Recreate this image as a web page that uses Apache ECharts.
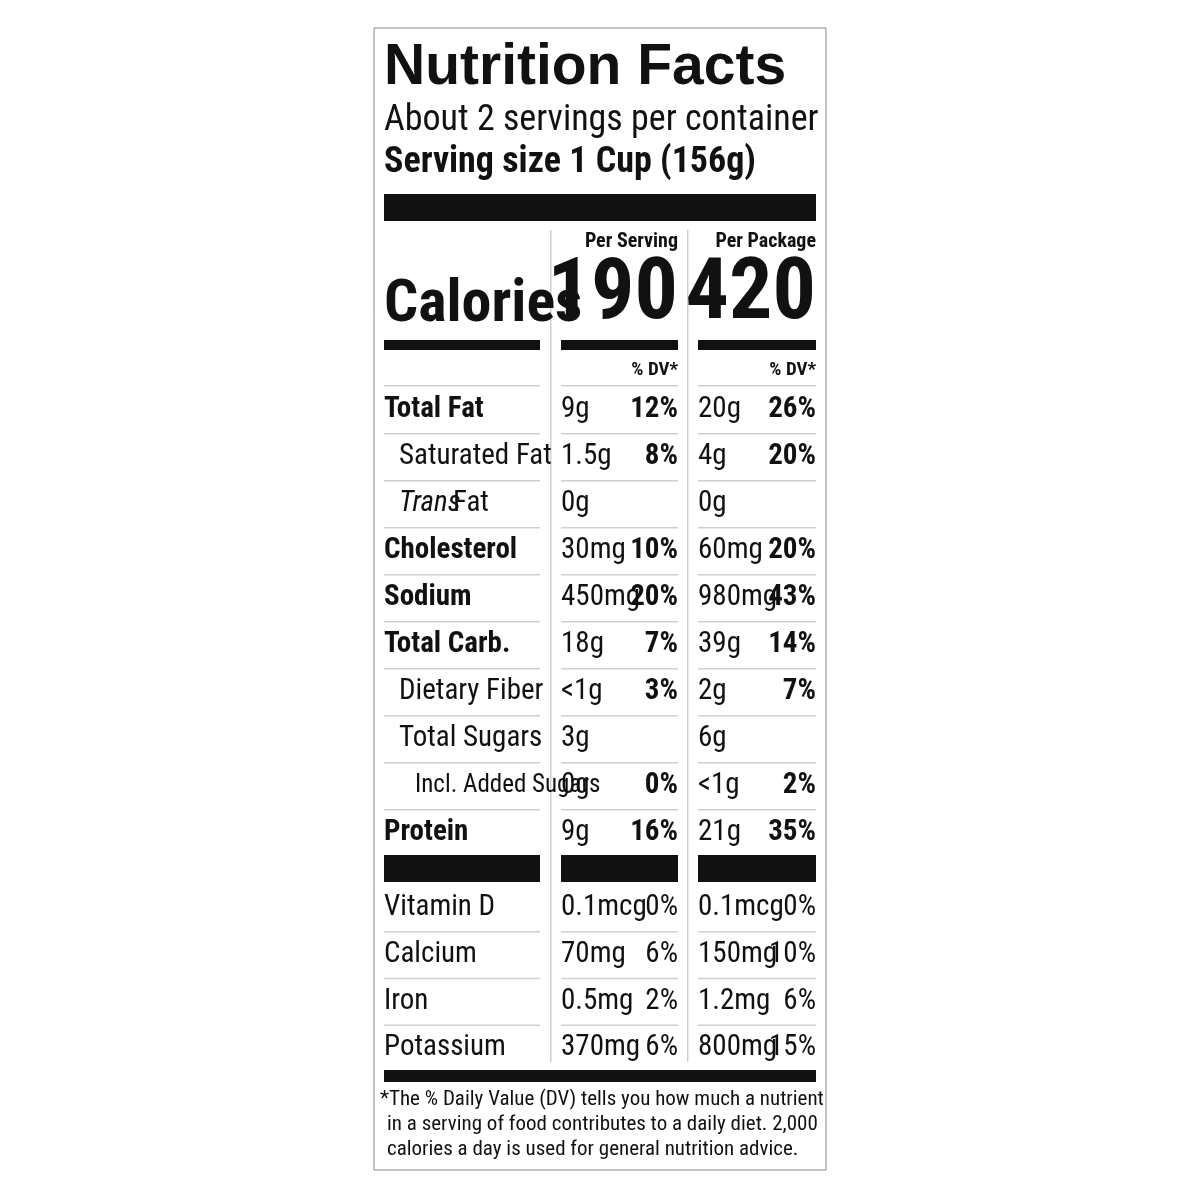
<!doctype html>
<html lang="en">
<head>
<meta charset="UTF-8">
<script src="https://cdn.jsdelivr.net/npm/echarts@6/dist/echarts.min.js"></script>
<title>Nutrition Facts</title>
<style>body{margin:0;background:#fff}</style>
</head>
<body>
<div id="main" style="width:1200px;height:1200px;"></div>
<script>
// nutrient rows
var nutrients = ['Total Fat', 'Saturated Fat', 'Trans Fat', 'Cholesterol', 'Sodium', 'Total Carb.', 'Dietary Fiber', 'Total Sugars', 'Incl. Added Sugars', 'Protein'];
var indent = [0, 1, 1, 0, 0, 0, 1, 1, 2, 0];
var servingAmt = ['9g', '1.5g', '0g', '30mg', '450mg', '18g', '<1g', '3g', '0g', '9g'];
var servingDV = ['12%', '8%', '', '10%', '20%', '7%', '3%', '', '0%', '16%'];
var packageAmt = ['20g', '4g', '0g', '60mg', '980mg', '39g', '2g', '6g', '<1g', '21g'];
var packageDV = ['26%', '20%', '', '20%', '43%', '14%', '7%', '', '2%', '35%'];
// vitamins & minerals
var vitamins = ['Vitamin D', 'Calcium', 'Iron', 'Potassium'];
var vitServAmt = ['0.1mcg', '70mg', '0.5mg', '370mg'];
var vitServDV = ['0%', '6%', '2%', '6%'];
var vitPkgAmt = ['0.1mcg', '150mg', '1.2mg', '800mg'];
var vitPkgDV = ['0%', '10%', '6%', '15%'];
var calories = ['190', '420'];

var F = '"Liberation Sans Narrow", "Roboto Condensed", "Liberation Sans", sans-serif';
var cols = [[384, 540], [561, 678], [698, 816]];
var g = [];

function txt(x, y, s, size, weight, align, style) {
    g.push({type: 'text', x: x, y: y, style: {text: s, fill: '#111', font: (style || 'normal') + ' ' + weight + ' ' + size + 'px ' + F, textAlign: align || 'left', textVerticalAlign: 'middle'}});
}
function rect(x1, y1, x2, y2, fill) {
    g.push({type: 'rect', shape: {x: x1, y: y1, width: x2 - x1, height: y2 - y1}, style: {fill: fill || '#111'}});
}
function sep(y) {
    cols.forEach(function (c) { rect(c[0], y, c[1], y + 1.5, '#cfcfcf'); });
}

// border
g.push({type: 'rect', shape: {x: 374, y: 28, width: 452, height: 1142}, style: {fill: '#fff', stroke: '#888', lineWidth: 1}});
g.push({type: 'text', x: 384, y: 68, style: {text: 'Nutrition Facts', fill: '#111', font: '900 57px "Liberation Sans", sans-serif', textVerticalAlign: 'middle'}});
txt(384, 121, 'About 2 servings per container', 36, 'normal');
txt(384, 163, 'Serving size 1 Cup (156g)', 36, 'bold');
rect(384, 194, 816, 221);
// vertical dividers
rect(550, 230, 551.5, 1062, '#cfcfcf');
rect(687, 230, 688.5, 1062, '#cfcfcf');

txt(678, 242, 'Per Serving', 20, 'bold', 'right');
txt(816, 242, 'Per Package', 20, 'bold', 'right');
txt(384, 306, 'Calories', 60, 'bold');
txt(678, 296, calories[0], 86, 'bold', 'right');
txt(816, 296, calories[1], 86, 'bold', 'right');
cols.forEach(function (c) { rect(c[0], 340, c[1], 350); });
txt(678, 370, '% DV*', 19, 'bold', 'right');
txt(816, 370, '% DV*', 19, 'bold', 'right');
sep(385);

var step = 47;
nutrients.forEach(function (n, i) {
    var y = 410 + i * step;
    var bold = indent[i] === 0 ? 'bold' : 'normal';
    var size = indent[i] === 2 ? 25 : 29;
    var x = 384 + (indent[i] === 1 ? 15 : indent[i] === 2 ? 31 : 0);
    if (n === 'Trans Fat') {
        txt(x, y, 'Trans', size, 'normal', 'left', 'italic');
        txt(x + 54, y, 'Fat', size, 'normal');
    } else {
        txt(x, y, n, size, bold);
    }
    txt(561, y, servingAmt[i], 29, 'normal');
    txt(678, y, servingDV[i], 29, 'bold', 'right');
    txt(698, y, packageAmt[i], 29, 'normal');
    txt(816, y, packageDV[i], 29, 'bold', 'right');
    if (i < nutrients.length - 1) sep(y + 23);
});
cols.forEach(function (c) { rect(c[0], 855, c[1], 882); });

vitamins.forEach(function (n, i) {
    var y = 908 + i * 46.7;
    txt(384, y, n, 29, 'normal');
    txt(561, y, vitServAmt[i], 29, 'normal');
    txt(678, y, vitServDV[i], 29, 'normal', 'right');
    txt(698, y, vitPkgAmt[i], 29, 'normal');
    txt(816, y, vitPkgDV[i], 29, 'normal', 'right');
    if (i < vitamins.length - 1) sep(y + 23);
});
rect(384, 1070, 816, 1082);

txt(380, 1100, '*The % Daily Value (DV) tells you how much a nutrient', 21, 'normal');
txt(387, 1125, 'in a serving of food contributes to a daily diet. 2,000', 21, 'normal');
txt(387, 1150, 'calories a day is used for general nutrition advice.', 21, 'normal');

var chart = echarts.init(document.getElementById('main'));
chart.setOption({animation: false, graphic: {elements: g}});
</script>
</body>
</html>
